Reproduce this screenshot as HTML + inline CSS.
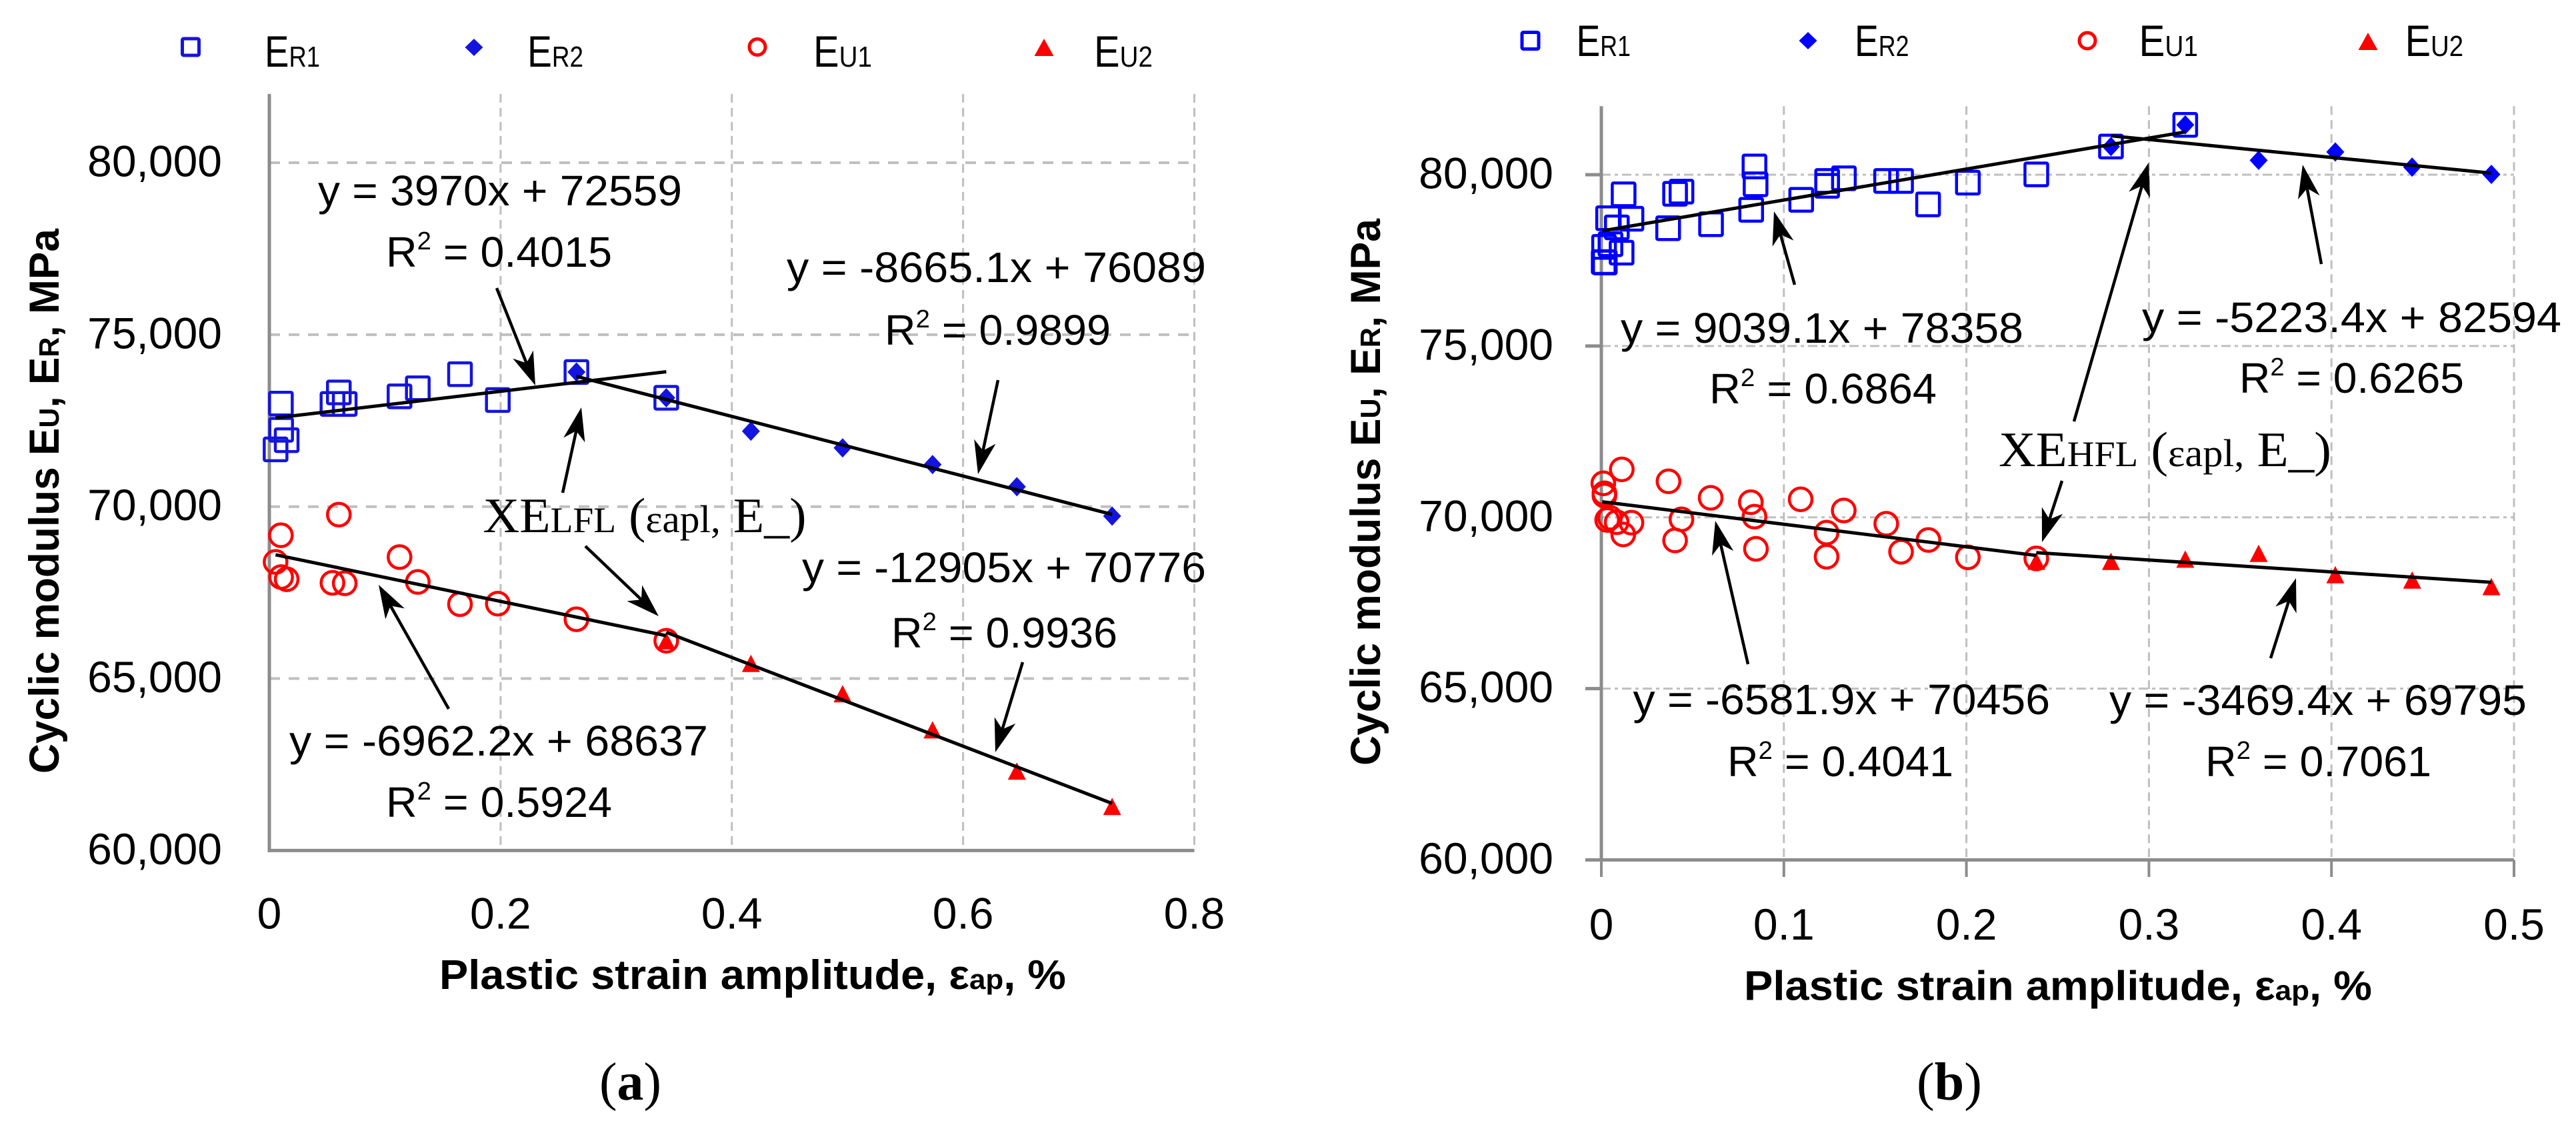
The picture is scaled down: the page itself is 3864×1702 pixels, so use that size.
<!DOCTYPE html>
<html lang="en">
<head>
<meta charset="utf-8">
<title>Cyclic modulus versus plastic strain amplitude</title>
<style>
html,body{margin:0;padding:0;background:#fff;}
svg{display:block;}
text{font-family:"Liberation Sans",sans-serif;fill:#000;}
.serif,.serif tspan{font-family:"Liberation Serif",serif;}
.eq{font-size:64px;}
.leg{font-size:66px;}
.leg tspan{font-size:44px;}
.xt{font-size:62px;font-weight:bold;}
.yt{font-size:63px;font-weight:bold;}
</style>
</head>
<body>
<svg id="figure" xmlns="http://www.w3.org/2000/svg" width="3864" height="1702" viewBox="0 0 3864 1702">
<rect x="0" y="0" width="3864" height="1702" fill="#fff"/>

<g id="panel-a">
  <g id="a-grid"></g>
  <g id="a-axes"></g>
  <g id="a-ticks"></g>
  <g id="a-marks"></g>
  <g id="a-trends"></g>
  <g id="a-arrows"></g>

  <g>
    <rect x="273.5" y="58" width="25" height="25" rx="2" fill="none" stroke="#1414e0" stroke-width="5"/>
    <text class="leg" x="397" y="100" textLength="83" lengthAdjust="spacingAndGlyphs">E<tspan>R1</tspan></text>
    <polygon points="711,58 724.5,71 711,84 697.5,71" fill="#1414e0"/>
    <text class="leg" x="791" y="100" textLength="84" lengthAdjust="spacingAndGlyphs">E<tspan>R2</tspan></text>
    <ellipse cx="1136" cy="70.5" rx="12" ry="12" fill="none" stroke="#ff0000" stroke-width="5"/>
    <text class="leg" x="1220" y="100" textLength="88" lengthAdjust="spacingAndGlyphs">E<tspan>U1</tspan></text>
    <polygon points="1566,58 1580.5,84 1551.5,84" fill="#ff0000"/>
    <text class="leg" x="1641" y="100" textLength="88" lengthAdjust="spacingAndGlyphs">E<tspan>U2</tspan></text>
  </g>

  <text class="yt" transform="translate(88,1160) rotate(-90)" x="0" y="0" textLength="817" lengthAdjust="spacingAndGlyphs">Cyclic modulus E<tspan font-size="42">U</tspan>, E<tspan font-size="42">R</tspan>, MPa</text>
  <text class="xt" x="659" y="1483" textLength="940" lengthAdjust="spacingAndGlyphs">Plastic strain amplitude, ε<tspan font-size="42">ap</tspan>, %</text>

  <text class="eq" x="477" y="308" textLength="546" lengthAdjust="spacingAndGlyphs">y = 3970x + 72559</text>
  <text class="eq" x="579" y="400" textLength="339" lengthAdjust="spacingAndGlyphs">R<tspan font-size="38" dy="-26">2</tspan><tspan dy="26"> = 0.4015</tspan></text>
  <text class="eq" x="1180" y="423" textLength="629" lengthAdjust="spacingAndGlyphs">y = -8665.1x + 76089</text>
  <text class="eq" x="1327" y="517" textLength="339" lengthAdjust="spacingAndGlyphs">R<tspan font-size="38" dy="-26">2</tspan><tspan dy="26"> = 0.9899</tspan></text>
  <text class="eq" x="1203" y="873" textLength="606" lengthAdjust="spacingAndGlyphs">y = -12905x + 70776</text>
  <text class="eq" x="1337" y="971" textLength="339" lengthAdjust="spacingAndGlyphs">R<tspan font-size="38" dy="-26">2</tspan><tspan dy="26"> = 0.9936</tspan></text>
  <text class="eq" x="434" y="1133" textLength="628" lengthAdjust="spacingAndGlyphs">y = -6962.2x + 68637</text>
  <text class="eq" x="579" y="1225" textLength="339" lengthAdjust="spacingAndGlyphs">R<tspan font-size="38" dy="-26">2</tspan><tspan dy="26"> = 0.5924</tspan></text>
  <text class="serif" x="724.5" y="798" font-size="74" textLength="485" lengthAdjust="spacingAndGlyphs">XE<tspan font-size="54">LFL</tspan> (<tspan font-size="58">εapl,</tspan> E_)</text>
  <text class="serif" x="899" y="1649" font-size="80" textLength="93" lengthAdjust="spacingAndGlyphs">(<tspan font-weight="bold">a</tspan>)</text>
</g>

<g id="panel-b">
  <g id="b-grid"></g>
  <g id="b-axes"></g>
  <g id="b-ticks"></g>
  <g id="b-marks"></g>
  <g id="b-trends"></g>
  <g id="b-arrows"></g>

  <g>
    <rect x="2283" y="48.5" width="25" height="25" rx="2" fill="none" stroke="#0000ff" stroke-width="5"/>
    <text class="leg" x="2364.5" y="84" textLength="81.5" lengthAdjust="spacingAndGlyphs">E<tspan>R1</tspan></text>
    <polygon points="2712,48 2725.5,61 2712,74 2698.5,61" fill="#0000ff"/>
    <text class="leg" x="2782" y="84" textLength="81.5" lengthAdjust="spacingAndGlyphs">E<tspan>R2</tspan></text>
    <ellipse cx="3131" cy="61" rx="12" ry="12" fill="none" stroke="#ff0000" stroke-width="5"/>
    <text class="leg" x="3208.5" y="84" textLength="88.5" lengthAdjust="spacingAndGlyphs">E<tspan>U1</tspan></text>
    <polygon points="3552,49 3566.5,75 3537.5,75" fill="#ff0000"/>
    <text class="leg" x="3607.6" y="84" textLength="87.5" lengthAdjust="spacingAndGlyphs">E<tspan>U2</tspan></text>
  </g>

  <text class="yt" transform="translate(2070,1148) rotate(-90)" x="0" y="0" textLength="820" lengthAdjust="spacingAndGlyphs">Cyclic modulus E<tspan font-size="42">U</tspan>, E<tspan font-size="42">R</tspan>, MPa</text>
  <text class="xt" x="2616" y="1499.5" textLength="942" lengthAdjust="spacingAndGlyphs">Plastic strain amplitude, ε<tspan font-size="42">ap</tspan>, %</text>

  <text class="eq" x="2431" y="514" textLength="604" lengthAdjust="spacingAndGlyphs">y = 9039.1x + 78358</text>
  <text class="eq" x="2564" y="605" textLength="341" lengthAdjust="spacingAndGlyphs">R<tspan font-size="38" dy="-26">2</tspan><tspan dy="26"> = 0.6864</tspan></text>
  <text class="eq" x="3213" y="498" textLength="629" lengthAdjust="spacingAndGlyphs">y = -5223.4x + 82594</text>
  <text class="eq" x="3359" y="589" textLength="337" lengthAdjust="spacingAndGlyphs">R<tspan font-size="38" dy="-26">2</tspan><tspan dy="26"> = 0.6265</tspan></text>
  <text class="eq" x="2449.5" y="1071" textLength="625.5" lengthAdjust="spacingAndGlyphs">y = -6581.9x + 70456</text>
  <text class="eq" x="2591" y="1164" textLength="339" lengthAdjust="spacingAndGlyphs">R<tspan font-size="38" dy="-26">2</tspan><tspan dy="26"> = 0.4041</tspan></text>
  <text class="eq" x="3164" y="1072" textLength="626" lengthAdjust="spacingAndGlyphs">y = -3469.4x + 69795</text>
  <text class="eq" x="3308" y="1164" textLength="339" lengthAdjust="spacingAndGlyphs">R<tspan font-size="38" dy="-26">2</tspan><tspan dy="26"> = 0.7061</tspan></text>
  <text class="serif" x="2998" y="699" font-size="74" textLength="499" lengthAdjust="spacingAndGlyphs">XE<tspan font-size="54">HFL</tspan> (<tspan font-size="58">εapl,</tspan> E_)</text>
  <text class="serif" x="2875" y="1649" font-size="80" textLength="98" lengthAdjust="spacingAndGlyphs">(<tspan font-weight="bold">b</tspan>)</text>
</g>

<script>
// ---- shared axis values ----
const yTickValues = [60000, 65000, 70000, 75000, 80000];
const yTickLabels = ["60,000", "65,000", "70,000", "75,000", "80,000"];

// ---- panel (a) data ----
const aXTickValues = [0, 0.2, 0.4, 0.6, 0.8];
const aXTickLabels = ["0", "0.2", "0.4", "0.6", "0.8"];
const aR1X = [0.0054, 0.0100, 0.0102, 0.0150, 0.0546, 0.0601, 0.0652, 0.1126, 0.1284, 0.1649, 0.1976, 0.2656, 0.3433];
const aR1Y = [71665, 72995, 72235, 71930, 72985, 73320, 72985, 73205, 73440, 73850, 73100, 73913, 73165];
const aR2X = [0.2656, 0.3433, 0.4165, 0.4958, 0.5736, 0.6465, 0.7289];
const aR2Y = [73913, 73165, 72193, 71708, 71222, 70579, 69724];
const aU1X = [0.0054, 0.0100, 0.0102, 0.0150, 0.0546, 0.0601, 0.0652, 0.1126, 0.1284, 0.1649, 0.1976, 0.2656, 0.3433];
const aU1Y = [68391, 69167, 67952, 67888, 67784, 69767, 67771, 68533, 67810, 67164, 67177, 66725, 66100];
const aU2X = [0.3433, 0.4165, 0.4958, 0.5736, 0.6465, 0.7289];
const aU2Y = [66100, 65441, 64560, 63510, 62310, 61283];
const aTrendNames = ["er1", "er2", "eu1", "eu2"];
const aTrendSlopes = [3970, -8665.1, -6962.2, -12905];
const aTrendIntercepts = [72559, 76089, 68637, 70776];
const aTrendStart = [0.0054, 0.2656, 0.0054, 0.3433];
const aTrendEnd = [0.3433, 0.7289, 0.3433, 0.7289];

// ---- panel (b) data ----
const bXTickValues = [0, 0.1, 0.2, 0.3, 0.4, 0.5];
const bXTickLabels = ["0", "0.1", "0.2", "0.3", "0.4", "0.5"];
const bR1X = [0.0122, 0.0037, 0.0165, 0.0085, 0.0404, 0.0439, 0.0366, 0.0601, 0.0839, 0.0845, 0.0821, 0.1095, 0.1237, 0.1237, 0.1329, 0.1560, 0.1642, 0.1790, 0.0015, 0.0050, 0.0111, 0.0013, 0.0019, 0.2008, 0.2383, 0.2792, 0.3199];
const bR1Y = [79429, 78729, 78716, 78463, 79442, 79507, 78437, 78554, 80240, 79721, 78975, 79267, 79818, 79676, 79896, 79818, 79818, 79135, 77892, 77970, 77724, 77451, 77438, 79768, 80010, 80823, 81456];
const bR2X = [0.2792, 0.3199, 0.3601, 0.4021, 0.4442, 0.4876];
const bR2Y = [80823, 81456, 80422, 80665, 80222, 80010];
const bU1X = [0.0011, 0.0017, 0.0017, 0.0047, 0.0032, 0.0084, 0.0165, 0.0120, 0.0112, 0.0368, 0.0439, 0.0404, 0.0599, 0.0819, 0.0839, 0.0847, 0.1092, 0.1328, 0.1234, 0.1234, 0.1561, 0.1642, 0.1792, 0.2008, 0.2383];
const bU1Y = [70992, 70700, 70635, 69987, 69922, 69857, 69844, 69500, 71400, 71050, 69942, 69325, 70570, 70440, 70020, 69080, 70525, 70200, 69553, 68850, 69812, 68995, 69338, 68833, 68800];
const bU2X = [0.2383, 0.2792, 0.3199, 0.3601, 0.4021, 0.4442, 0.4876];
const bU2Y = [68720, 68716, 68780, 68950, 68327, 68171, 67977];
const bTrendNames = ["er1", "er2", "eu1", "eu2"];
const bTrendSlopes = [9039.1, -5223.4, -6581.9, -3469.4];
const bTrendIntercepts = [78358, 82594, 70456, 69795];
const bTrendStart = [0.0005, 0.2792, 0.0005, 0.2383];
const bTrendEnd = [0.3199, 0.4876, 0.2383, 0.4876];

// ---- axis functions ----
function xA(v) { return 404 + v / 0.8 * 1387.5; }
function yA(v) { return 1275.4 - (v - 60000) / 20000 * 1031.4; }
function xB(v) { return 2402 + v / 0.5 * 1369; }
function yB(v) { return 1289.5 - (v - 60000) / 20000 * 1027.5; }

const NS = document.getElementById('figure').namespaceURI;

function make(parent, tag, attrs) {
  const el = document.createElementNS(NS, tag);
  for (const k in attrs) el.setAttribute(k, attrs[k]);
  parent.appendChild(el);
  return el;
}

function drawLine(parent, name, x1, y1, x2, y2, color, width, dash, cap) {
  const el = make(parent, 'line', {x1: x1, y1: y1, x2: x2, y2: y2, stroke: color, 'stroke-width': width, 'stroke-dasharray': dash || 'none', 'stroke-linecap': cap || 'butt'});
  
  
}

function drawLabel(parent, name, x, y, str, anchor) {
  const el = make(parent, 'text', {x: x, y: y, 'font-size': 66, 'text-anchor': anchor});
  el.textContent = str;
  
  
}

function drawSquare(parent, name, x, y, color) {
  const el = make(parent, 'rect', {x: x - 17, y: y - 17, width: 34, height: 34, rx: 2, fill: 'none', stroke: color, 'stroke-width': 4.5});
  
  
}

function drawCircle(parent, name, x, y, color) {
  const el = make(parent, 'circle', {cx: x, cy: y, r: 17, fill: 'none', stroke: color, 'stroke-width': 4.5});
  
  
}

function drawDiamond(parent, name, x, y, color) {
  const pts = [x, y - 14.5, x + 13.5, y, x, y + 14.5, x - 13.5, y].join(' ');
  const el = make(parent, 'polygon', {points: pts, fill: color});
  
  
}

function drawTriangle(parent, name, x, y, color) {
  const pts = [x, y - 13, x + 13.5, y + 13, x - 13.5, y + 13].join(' ');
  const el = make(parent, 'polygon', {points: pts, fill: color});
  
  
}

function drawSeries(drawFn, parent, prefix, xs, ys, xFn, yFn, color) {
  xs.forEach(function (xv, i) {
    drawFn(parent, prefix + '-point-' + (i + 1), xFn(xv), yFn(ys[i]), color);
  });
}

function drawTrends(parent, prefix, names, slopes, intercepts, starts, ends, xFn, yFn) {
  names.forEach(function (n, i) {
    const y1 = slopes[i] * starts[i] + intercepts[i];
    const y2 = slopes[i] * ends[i] + intercepts[i];
    drawLine(parent, prefix + '-trendline-' + n, xFn(starts[i]), yFn(y1), xFn(ends[i]), yFn(y2), '#000', 5);
  });
}

function drawArrow(parent, name, x1, y1, x2, y2) {
  const dx = x2 - x1, dy = y2 - y1, len = Math.hypot(dx, dy);
  const ux = dx / len, uy = dy / len, px = -uy, py = ux;
  const neck = len - 34;
  const sh = make(parent, 'line', {x1: x1, y1: y1, x2: x1 + ux * neck, y2: y1 + uy * neck, stroke: '#000', 'stroke-width': 4.5});
  
  
  const bx = x2 - ux * 50, by = y2 - uy * 50;
  const nx = x2 - ux * 36, ny = y2 - uy * 36;
  const pts = [x2, y2, bx + px * 16.5, by + py * 16.5, nx, ny, bx - px * 16.5, by - py * 16.5].join(' ');
  const head = make(parent, 'polygon', {points: pts, fill: '#000'});
  
  
}

// ---- panel (a) ----
const aGrid = document.getElementById('a-grid');
const aAxes = document.getElementById('a-axes');
const aTicks = document.getElementById('a-ticks');
const aMarks = document.getElementById('a-marks');
const aTrends = document.getElementById('a-trends');
const aArrows = document.getElementById('a-arrows');

yTickValues.forEach(function (v, i) {
  if (v > 60000) drawLine(aGrid, 'a-h-gridline-' + v, xA(0), yA(v), xA(0.8), yA(v), '#bfbfbf', 4, '16 13');
  drawLabel(aTicks, 'a-y-tick-' + v, 333, yA(v) + 20.5, yTickLabels[i], 'end');
});
aXTickValues.forEach(function (v, i) {
  if (v > 0) drawLine(aGrid, 'a-v-gridline-' + v, xA(v), yA(82000), xA(v), yA(60000), '#bfbfbf', 3, '13 8');
  drawLabel(aTicks, 'a-x-tick-' + v, xA(v), 1392.5, aXTickLabels[i], 'middle');
});
drawLine(aAxes, 'a-y-axis', xA(0), yA(82000), xA(0), yA(60000) + 2.5, '#8c8c8c', 5);
drawLine(aAxes, 'a-x-axis', xA(0) - 2.5, yA(60000), xA(0.8), yA(60000), '#8c8c8c', 5);

drawSeries(drawSquare, aMarks, 'a-er1', aR1X, aR1Y, xA, yA, '#1414e0');
drawSeries(drawDiamond, aMarks, 'a-er2', aR2X, aR2Y, xA, yA, '#1414e0');
drawSeries(drawCircle, aMarks, 'a-eu1', aU1X, aU1Y, xA, yA, '#ff0000');
drawSeries(drawTriangle, aMarks, 'a-eu2', aU2X, aU2Y, xA, yA, '#ff0000');
drawTrends(aTrends, 'a', aTrendNames, aTrendSlopes, aTrendIntercepts, aTrendStart, aTrendEnd, xA, yA);

drawArrow(aArrows, 'a-arrow-er1', 745, 432, 803, 578);
drawArrow(aArrows, 'a-arrow-er2', 1497, 570, 1467, 711);
drawArrow(aArrows, 'a-arrow-intersection-up', 844, 739, 872, 611);
drawArrow(aArrows, 'a-arrow-intersection-down', 878, 819, 988, 924);
drawArrow(aArrows, 'a-arrow-eu1', 673, 1063, 568, 877);
drawArrow(aArrows, 'a-arrow-eu2', 1534, 993, 1493, 1128);

// ---- panel (b) ----
const bGrid = document.getElementById('b-grid');
const bAxes = document.getElementById('b-axes');
const bTicks = document.getElementById('b-ticks');
const bMarks = document.getElementById('b-marks');
const bTrends = document.getElementById('b-trends');
const bArrows = document.getElementById('b-arrows');

yTickValues.forEach(function (v, i) {
  if (v > 60000) drawLine(bGrid, 'b-h-gridline-' + v, xB(0), yB(v), xB(0.5), yB(v), '#bfbfbf', 3, '14 6 5 6');
  if (v !== 70000) drawLine(bAxes, 'b-y-tickmark-' + v, 2378, yB(v), xB(0), yB(v), '#8c8c8c', 5);
  drawLabel(bTicks, 'b-y-tick-' + v, 2330, yB(v) + 20.5, yTickLabels[i], 'end');
});
bXTickValues.forEach(function (v, i) {
  if (v > 0) drawLine(bGrid, 'b-v-gridline-' + v, xB(v), yB(82000), xB(v), yB(60000), '#bfbfbf', 3, '13 8');
  drawLine(bAxes, 'b-x-tickmark-' + v, xB(v), yB(60000), xB(v), 1315, '#8c8c8c', 4);
  drawLabel(bTicks, 'b-x-tick-' + v, xB(v), 1409, bXTickLabels[i], 'middle');
});
drawLine(bAxes, 'b-y-axis', xB(0), yB(82000), xB(0), yB(60000), '#8c8c8c', 5);
drawLine(bAxes, 'b-x-axis', xB(0), yB(60000), xB(0.5), yB(60000), '#8c8c8c', 5);

drawSeries(drawSquare, bMarks, 'b-er1', bR1X, bR1Y, xB, yB, '#0000ff');
drawSeries(drawDiamond, bMarks, 'b-er2', bR2X, bR2Y, xB, yB, '#0000ff');
drawSeries(drawCircle, bMarks, 'b-eu1', bU1X, bU1Y, xB, yB, '#ff0000');
drawSeries(drawTriangle, bMarks, 'b-eu2', bU2X, bU2Y, xB, yB, '#ff0000');
drawTrends(bTrends, 'b', bTrendNames, bTrendSlopes, bTrendIntercepts, bTrendStart, bTrendEnd, xB, yB);

drawArrow(bArrows, 'b-arrow-er1', 2692, 427, 2661, 317);
drawArrow(bArrows, 'b-arrow-er2', 3482, 396, 3454, 247);
drawArrow(bArrows, 'b-arrow-intersection-up', 3111, 632, 3223, 244);
drawArrow(bArrows, 'b-arrow-intersection-down', 3093, 721, 3063, 813);
drawArrow(bArrows, 'b-arrow-eu1', 2622, 996, 2573, 781);
drawArrow(bArrows, 'b-arrow-eu2', 3406, 987, 3444, 867);
</script>
</svg>
</body>
</html>
